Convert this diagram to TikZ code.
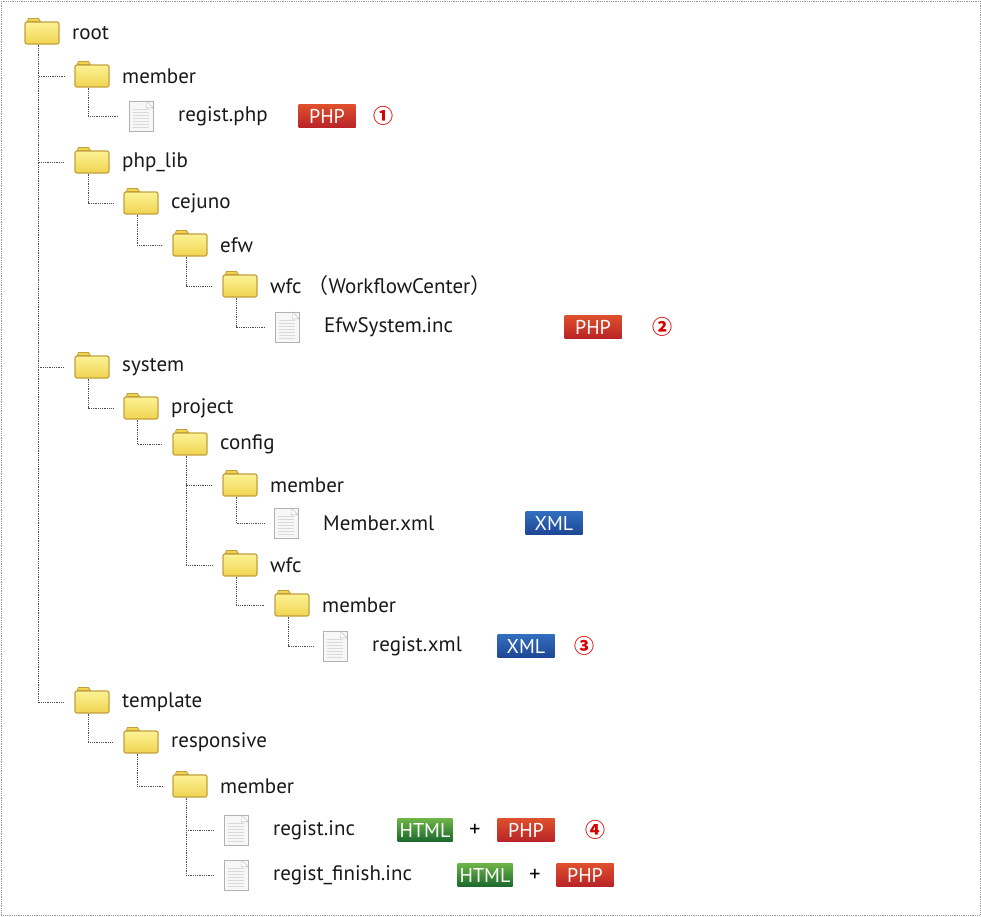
\documentclass[tikz,border=0pt]{standalone}
\usepackage{fontspec}
\setmainfont{PT Sans}
\newfontfamily\cjk{Noto Sans CJK JP}
\usetikzlibrary{calc}
\definecolor{fgold}{RGB}{196,160,60}
\definecolor{fyel}{RGB}{252,242,150}
\definecolor{fyel2}{RGB}{240,212,80}
\definecolor{phpt}{RGB}{222,80,45}
\definecolor{phpb}{RGB}{185,35,40}
\definecolor{xmlt}{RGB}{50,110,190}
\definecolor{xmlb}{RGB}{30,70,150}
\definecolor{htmt}{RGB}{110,180,70}
\definecolor{htmb}{RGB}{25,105,45}
\tikzset{
 x=1pt,y=-1pt,
 folder/.style={draw=fgold,line width=1.2pt,rounded corners=2pt,top color=fyel,bottom color=fyel2,minimum width=34pt,minimum height=22pt,inner sep=0pt},
 file/.style={draw=gray!60,fill=gray!6,minimum width=24pt,minimum height=30pt,inner sep=0pt},
 lbl/.style={anchor=west,font=\fontsize{21}{23}\selectfont,text=black!90,inner sep=0pt},
 tree/.style={draw=black!70,densely dotted,line width=0.8pt},
 badge/.style={text=white,font=\fontsize{20}{20}\selectfont,minimum width=57pt,minimum height=23pt,inner sep=0pt},
 php/.style={badge,top color=phpt,bottom color=phpb},
 xml/.style={badge,top color=xmlt,bottom color=xmlb},
 html/.style={badge,minimum width=55pt,top color=htmt,bottom color=htmb},
 num/.style={font=\cjk\bfseries\fontsize{20}{20}\selectfont,text=red!85!black,inner sep=0pt},
 plus/.style={font=\fontsize{22}{22}\selectfont,inner sep=0pt}
}
\newcommand\fold[4]{% name, x, y, text
 \node[folder] (#1) at (#2,#3) {};
 \fill[fyel2,draw=fgold,line width=0.8pt] ($(#1.north west)+(3,0)$) -- ++(1,-3) -- ++(10,0) -- ++(2,3) -- cycle;
 \node[lbl] (#1t) at (#2+30,#3) {#4};}
\newcommand\fil[4]{%
 \node[file] (#1) at (#2,#3) {};
 \fill[white,draw=gray!60] ($(#1.north east)+(-7,0)$) -- ++(7,7) -- ++(-7,0) -- cycle;
 \foreach \k in {8,11,...,26}{\draw[gray!30,line width=0.4pt] ($(#1.north west)+(4,\k)$) -- ++(16,0);}
 \node[lbl] (#1t) at (#2+37,#3) {#4};}
\newcommand\con[2]{\draw[tree] ([xshift=-4pt]#1.south) |- ([xshift=-10pt]#2.west);}
\begin{document}
\begin{tikzpicture}
\useasboundingbox (0,0) rectangle (981,916);
\draw[gray!80,densely dotted,line width=0.8pt] (1,1) rectangle (980,915);
\fold{root}{42}{33}{root}
\fold{mem}{92}{76}{member}
\fil{rphp}{141}{116}{regist.php}
\fold{plib}{92}{162}{php\_lib}
\fold{cej}{141}{203}{cejuno}
\fold{efw}{190}{245}{efw}
\fold{wfc}{240}{286}{wfc\hspace{6pt}{\cjk （}WorkflowCenter{\cjk ）}}
\fil{efs}{287}{327}{EfwSystem.inc}
\fold{sys}{92}{367}{system}
\fold{proj}{141}{408}{project}
\fold{conf}{190}{444}{config}
\fold{cmem}{240}{485}{member}
\fil{mxml}{286}{523}{Member.xml}
\fold{cwfc}{240}{565}{wfc}
\fold{wmem}{292}{605}{member}
\fil{rxml}{335}{646}{regist.xml}
\fold{tmpl}{92}{702}{template}
\fold{resp}{141}{742}{responsive}
\fold{tmem}{190}{786}{member}
\fil{rinc}{236}{830}{regist.inc}
\fil{rfin}{236}{875}{regist\_finish.inc}
\con{root}{mem}\con{root}{plib}\con{root}{sys}\con{root}{tmpl}
\con{mem}{rphp}\con{plib}{cej}\con{cej}{efw}\con{efw}{wfc}\con{wfc}{efs}
\con{sys}{proj}\con{proj}{conf}\con{conf}{cmem}\con{conf}{cwfc}\con{cmem}{mxml}
\con{cwfc}{wmem}\con{wmem}{rxml}
\con{tmpl}{resp}\con{resp}{tmem}\con{tmem}{rinc}\con{tmem}{rfin}
\node[php] (b1) at (327,116) {PHP};
\node[num] (n1) at (383,116) {①};
\node[php] (b2) at (593,327) {PHP};
\node[num] (n2) at (662,327) {②};
\node[xml] (b3) at (554,523) {XML};
\node[xml] (b4) at (526,646) {XML};
\node[num] (n3) at (584,646) {③};
\node[html] (b5) at (425,830) {HTML};
\node[plus] (p1) at (475,830) {+};
\node[php] (b6) at (526,830) {PHP};
\node[num] (n4) at (595,830) {④};
\node[html] (b7) at (485,875) {HTML};
\node[plus] (p2) at (535,875) {+};
\node[php] (b8) at (585,875) {PHP};
\end{tikzpicture}
\end{document}
